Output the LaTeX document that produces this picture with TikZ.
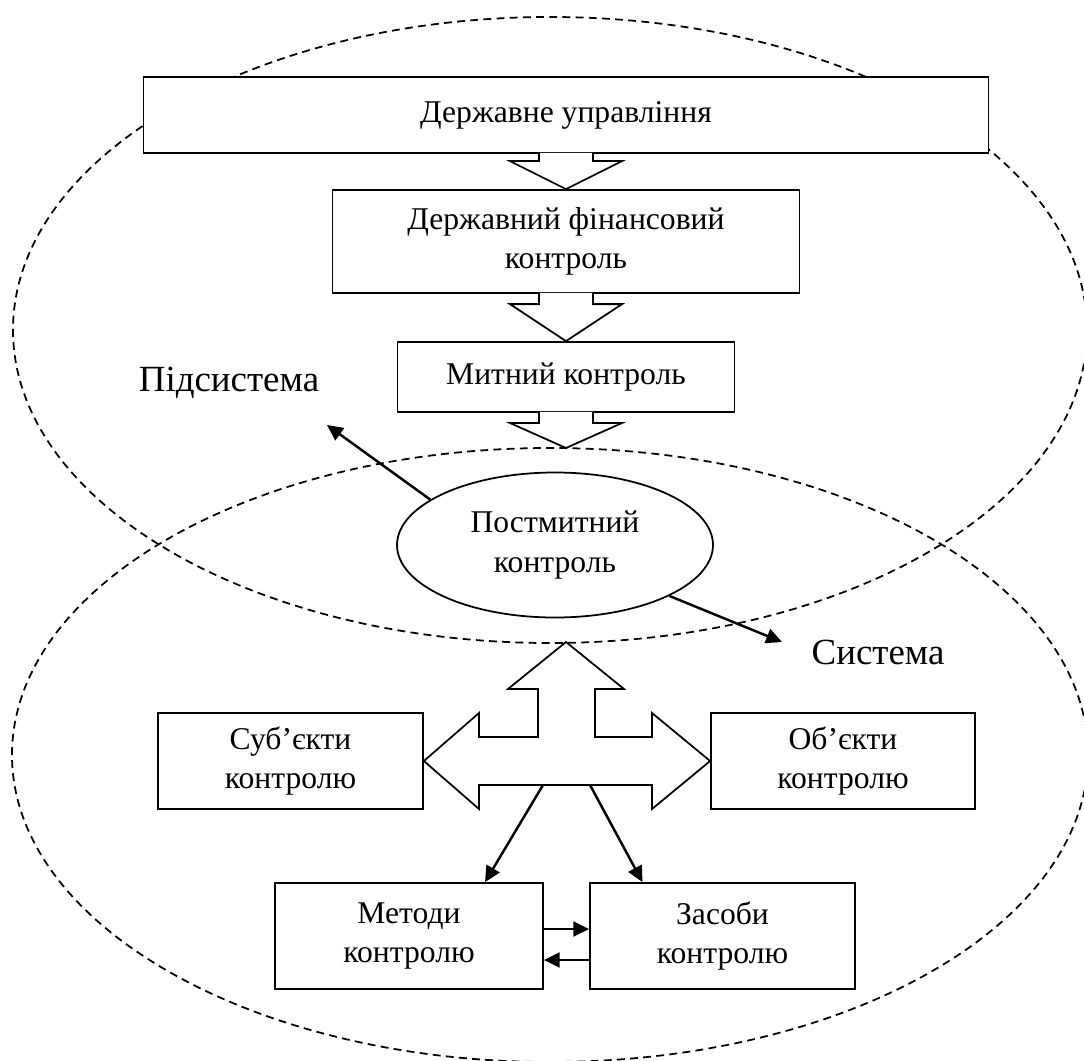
\documentclass[tikz,border=0pt]{standalone}
\usepackage{fontspec}
\setmainfont{Liberation Serif}
\usetikzlibrary{calc, arrows.meta, shapes.geometric}

\tikzset{
  box/.style={draw, fill=white, line width=1pt, align=center, inner sep=0pt, font=\fontsize{18}{22.5}\selectfont},
  oval/.style={line width=1pt, dash pattern=on 4.5pt off 3pt},
  fat/.style={fill=white, line width=1pt, line join=miter},
  link/.style={line width=1.4pt, -{Triangle[length=9pt, width=8.5pt]}},
  tag/.style={font=\fontsize{21}{25}\selectfont, inner sep=0pt}
}

% wide hollow arrow from the bottom of #1 down to #2, head length #3
\newcommand{\fatdown}[3]{%
  \draw[fat] ($(#2|-#1)+(-27,-1)$) -- ($(#2)+(-27,-#3)$) -- ($(#2)+(-56,-#3)$) -- (#2)
    -- ($(#2)+(56,-#3)$) -- ($(#2)+(27,-#3)$) -- ($(#2|-#1)+(27,-1)$);}

\begin{document}
\begin{tikzpicture}[x=0.2mm, y=-0.2mm]
    \useasboundingbox (0,0) rectangle (1084,1061);
    % subsystem and system
    \coordinate (sub) at (550,330);
    \coordinate (sys) at (550,755);
    \draw[oval] (sub) ellipse [x radius=107.4mm, y radius=62.6mm];
    \draw[oval] (sys) ellipse [x radius=107.6mm, y radius=61.4mm];
    \coordinate (systop) at (566,448);
    \node[box, minimum width=169mm, minimum height=15.2mm] (gov) at (566,115) {Державне управління};
    \node[box, minimum width=93.4mm, minimum height=20.6mm] (fin) at (566,241.5) {Державний фінансовий\\контроль};
    \node[box, minimum width=67.4mm, minimum height=14mm] (cust) at (566,377) {Митний контроль};
    \node[box, ellipse, minimum width=63.2mm, minimum height=29mm] (post) at (555,545) {Постмитний\\контроль};
    \node[box, minimum width=53mm, minimum height=19.2mm] (subj) at (290.5,761) {Суб’єкти\\контролю};
    \node[box, minimum width=52.8mm, minimum height=19.2mm] (obj) at (843,761) {Об’єкти\\контролю};
    \node[box, minimum width=53.6mm, minimum height=21.2mm] (meth) at (409,936) {Методи\\контролю};
    \node[box, minimum width=53mm, minimum height=21.2mm] (means) at (722.5,936) {Засоби\\контролю};
    \node[tag] (sublbl) at (229,383) {Підсистема};
    \node[tag] (syslbl) at (878,652) {Система};
    % hollow arrows down
    \fatdown{gov.south}{fin.north}{28}
    \fatdown{fin.south}{cust.north}{37}
    \fatdown{cust.south}{systop}{25}
    % three-way arrow
    \coordinate (hub) at (566,761);
    \coordinate (hubtop) at ($(hub)+(0,-119)$);
    \draw[fat] (hubtop) -- ($(hub)+(58,-72)$) -- ($(hub)+(29,-72)$) -- ($(hub)+(29,-24)$)
      -- ($(hub)+(86,-24)$) -- ($(hub)+(86,-48)$) -- (obj.west) -- ($(hub)+(86,48)$)
      -- ($(hub)+(86,24)$) -- ($(hub)+(-87,24)$) -- ($(hub)+(-87,48)$) -- (subj.east)
      -- ($(hub)+(-87,-48)$) -- ($(hub)+(-87,-24)$) -- ($(hub)+(-28,-24)$)
      -- ($(hub)+(-28,-72)$) -- ($(hub)+(-58,-72)$) -- cycle;
    \coordinate (forkL) at ($(hub)+(-23,24)$);
    \coordinate (forkR) at ($(hub)+(24,24)$);
    \draw[link] (forkL) -- ($(meth.north)+(76,0)$);
    \draw[link] (forkR) -- ($(means.north)+(-80,0)$);
    \draw[link] ($(meth.east)+(0,-7)$) -- ($(means.west)+(0,-7)$);
    \draw[link] ($(means.west)+(0,24)$) -- ($(meth.east)+(0,24)$);
    % labels
    \coordinate (subtip) at (327,425);
    \coordinate (systip) at (782,642);
    \draw[link] (post.160) -- (subtip);
    \draw[link] (post.336) -- (systip);
\end{tikzpicture}
\end{document}
